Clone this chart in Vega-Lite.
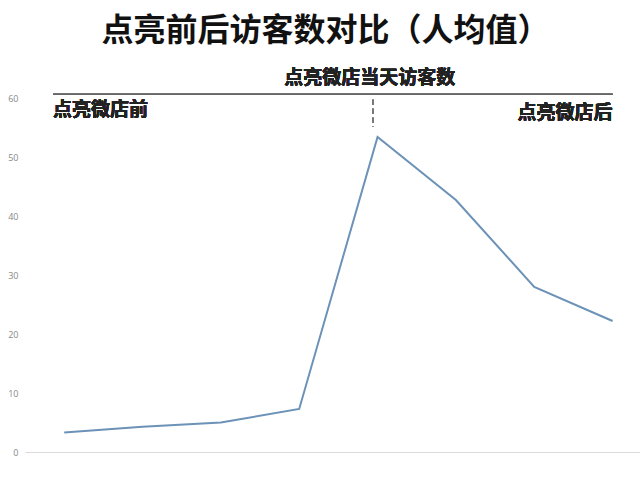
{
  "$schema": "https://vega.github.io/schema/vega-lite/v6.json",
  "autosize": {"type": "none"},
  "width": 615,
  "height": 354,
  "padding": {"left": 25, "top": 98, "right": 0, "bottom": 27},
  "background": "white",
  "title": {
    "text": "点亮前后访客数对比（人均值）",
    "font": "Noto Sans CJK SC",
    "fontSize": 32,
    "fontWeight": "bold",
    "color": "#111111",
    "anchor": "middle",
    "dx": -7,
    "offset": 21
  },
  "data": {
    "values": [
      {"day": 1, "visitors": 3.3},
      {"day": 2, "visitors": 4.3},
      {"day": 3, "visitors": 5.0},
      {"day": 4, "visitors": 7.3},
      {"day": 5, "visitors": 53.4},
      {"day": 6, "visitors": 42.7},
      {"day": 7, "visitors": 28.0},
      {"day": 8, "visitors": 22.2}
    ]
  },
  "layer": [
    {
      "mark": {"type": "line", "color": "#6C92B8", "strokeWidth": 2},
      "encoding": {
        "x": {
          "field": "day",
          "type": "quantitative",
          "scale": {"domain": [0.5, 8.35], "nice": false, "zero": false},
          "axis": {"title": null, "labels": false, "ticks": false, "grid": false, "domainColor": "#d9d9d9", "domainWidth": 1}
        },
        "y": {
          "field": "visitors",
          "type": "quantitative",
          "scale": {"domain": [0, 60], "nice": false},
          "axis": {
            "title": null,
            "values": [0, 10, 20, 30, 40, 50, 60],
            "grid": false,
            "domain": false,
            "ticks": false,
            "labelPadding": 7,
            "labelFont": "Open Sans",
            "labelFontSize": 9,
            "labelColor": "#888888"
          }
        }
      }
    },
    {
      "mark": {"type": "rule", "color": "#666666", "strokeWidth": 1.2, "clip": false},
      "encoding": {
        "x": {"datum": 0.86, "type": "quantitative"},
        "x2": {"datum": 8.0},
        "y": {"datum": 60.6, "type": "quantitative"}
      }
    },
    {
      "mark": {"type": "rule", "color": "#777777", "strokeWidth": 1.5, "strokeDash": [5, 4]},
      "encoding": {
        "x": {"datum": 4.94, "type": "quantitative"},
        "y": {"datum": 59.7, "type": "quantitative"},
        "y2": {"datum": 55.1}
      }
    },
    {
      "mark": {"type": "text", "align": "center", "baseline": "middle", "font": "Noto Sans CJK SC", "fontSize": 19, "fontWeight": "bold", "color": "#222222", "clip": false},
      "encoding": {
        "x": {"datum": 4.9, "type": "quantitative"},
        "y": {"datum": 63.4, "type": "quantitative"},
        "text": {"value": "点亮微店当天访客数"}
      }
    },
    {
      "mark": {"type": "text", "align": "left", "baseline": "middle", "font": "Noto Sans CJK SC", "fontSize": 19, "fontWeight": "bold", "color": "#222222"},
      "encoding": {
        "x": {"datum": 0.857, "type": "quantitative"},
        "y": {"datum": 58.0, "type": "quantitative"},
        "text": {"value": "点亮微店前"}
      }
    },
    {
      "mark": {"type": "text", "align": "right", "baseline": "middle", "font": "Noto Sans CJK SC", "fontSize": 19, "fontWeight": "bold", "color": "#222222"},
      "encoding": {
        "x": {"datum": 8.0, "type": "quantitative"},
        "y": {"datum": 57.5, "type": "quantitative"},
        "text": {"value": "点亮微店后"}
      }
    }
  ],
  "config": {"view": {"stroke": null}}
}
